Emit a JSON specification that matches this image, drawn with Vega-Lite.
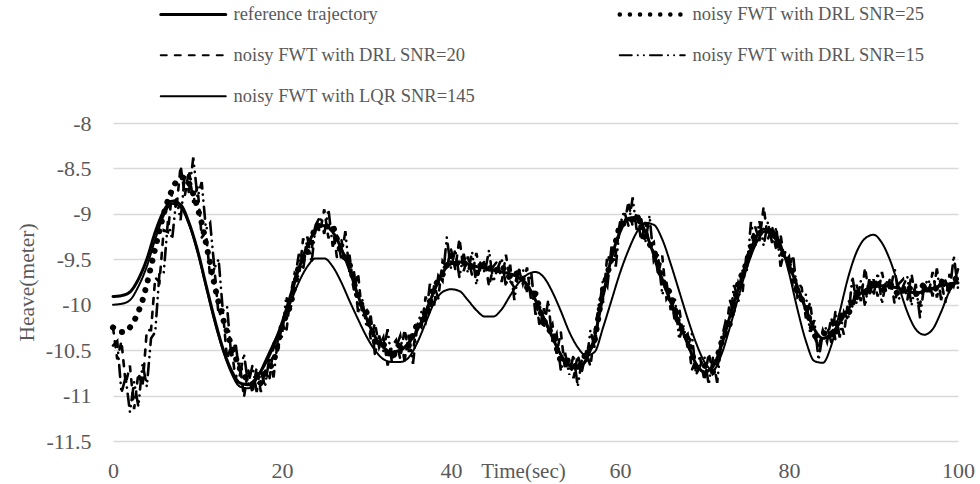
{
  "$schema": "https://vega.github.io/schema/vega-lite/v6.json",
  "width": 845,
  "height": 318,
  "autosize": {"type": "none"},
  "padding": {"left": 113, "top": 123, "right": 22, "bottom": 43},
  "background": "white",
  "config": {"view": {"stroke": null}},
  "datasets": {
    "ref": [{"t":0,"v":-9.91},{"t":1,"v":-9.9},{"t":2,"v":-9.86},{"t":3,"v":-9.72},{"t":4,"v":-9.5},{"t":5,"v":-9.2},{"t":6,"v":-8.97},{"t":7,"v":-8.86},{"t":8,"v":-8.9},{"t":9,"v":-9.1},{"t":10,"v":-9.4},{"t":11,"v":-9.78},{"t":12,"v":-10.15},{"t":13,"v":-10.48},{"t":14,"v":-10.72},{"t":15,"v":-10.86},{"t":16,"v":-10.88},{"t":17,"v":-10.8},{"t":18,"v":-10.65},{"t":19,"v":-10.45},{"t":20,"v":-10.2},{"t":21,"v":-9.9},{"t":22,"v":-9.6},{"t":23,"v":-9.35},{"t":24,"v":-9.18},{"t":25,"v":-9.13},{"t":26,"v":-9.2},{"t":27,"v":-9.38},{"t":28,"v":-9.62},{"t":29,"v":-9.9},{"t":30,"v":-10.15},{"t":31,"v":-10.35},{"t":32,"v":-10.47},{"t":33,"v":-10.52},{"t":34,"v":-10.5},{"t":35,"v":-10.42},{"t":36,"v":-10.28},{"t":37,"v":-10.08},{"t":38,"v":-9.85},{"t":39,"v":-9.65},{"t":40,"v":-9.55},{"t":41,"v":-9.53},{"t":42,"v":-9.55},{"t":43,"v":-9.58},{"t":44,"v":-9.6},{"t":45,"v":-9.62},{"t":46,"v":-9.64},{"t":47,"v":-9.66},{"t":48,"v":-9.7},{"t":49,"v":-9.78},{"t":50,"v":-9.95},{"t":51,"v":-10.15},{"t":52,"v":-10.36},{"t":53,"v":-10.55},{"t":54,"v":-10.67},{"t":55,"v":-10.7},{"t":56,"v":-10.6},{"t":57,"v":-10.35},{"t":58,"v":-9.9},{"t":59,"v":-9.48},{"t":60,"v":-9.2},{"t":61,"v":-9.05},{"t":62,"v":-9.04},{"t":63,"v":-9.2},{"t":64,"v":-9.45},{"t":65,"v":-9.72},{"t":66,"v":-9.97},{"t":67,"v":-10.2},{"t":68,"v":-10.43},{"t":69,"v":-10.65},{"t":70,"v":-10.74},{"t":71,"v":-10.68},{"t":72,"v":-10.45},{"t":73,"v":-10.13},{"t":74,"v":-9.82},{"t":75,"v":-9.52},{"t":76,"v":-9.28},{"t":77,"v":-9.17},{"t":78,"v":-9.22},{"t":79,"v":-9.38},{"t":80,"v":-9.57},{"t":81,"v":-9.8},{"t":82,"v":-10.05},{"t":83,"v":-10.27},{"t":84,"v":-10.37},{"t":85,"v":-10.32},{"t":86,"v":-10.2},{"t":87,"v":-10.05},{"t":88,"v":-9.92},{"t":89,"v":-9.84},{"t":90,"v":-9.8},{"t":91,"v":-9.79},{"t":92,"v":-9.8},{"t":93,"v":-9.82},{"t":94,"v":-9.85},{"t":95,"v":-9.87},{"t":96,"v":-9.85},{"t":97,"v":-9.82},{"t":98,"v":-9.79},{"t":99,"v":-9.77},{"t":100,"v":-9.76}],
    "lqr": [{"t":0,"v":-10.0},{"t":1,"v":-9.99},{"t":2,"v":-9.95},{"t":3,"v":-9.8},{"t":4,"v":-9.58},{"t":5,"v":-9.28},{"t":6,"v":-9.02},{"t":7,"v":-8.89},{"t":8,"v":-8.93},{"t":9,"v":-9.12},{"t":10,"v":-9.42},{"t":11,"v":-9.8},{"t":12,"v":-10.18},{"t":13,"v":-10.5},{"t":14,"v":-10.75},{"t":15,"v":-10.9},{"t":16,"v":-10.92},{"t":17,"v":-10.82},{"t":18,"v":-10.62},{"t":19,"v":-10.42},{"t":20,"v":-10.22},{"t":21,"v":-9.98},{"t":22,"v":-9.75},{"t":23,"v":-9.58},{"t":24,"v":-9.49},{"t":25,"v":-9.49},{"t":26,"v":-9.58},{"t":27,"v":-9.75},{"t":28,"v":-9.96},{"t":29,"v":-10.16},{"t":30,"v":-10.35},{"t":31,"v":-10.5},{"t":32,"v":-10.6},{"t":33,"v":-10.63},{"t":34,"v":-10.63},{"t":35,"v":-10.58},{"t":36,"v":-10.42},{"t":37,"v":-10.2},{"t":38,"v":-9.98},{"t":39,"v":-9.86},{"t":40,"v":-9.83},{"t":41,"v":-9.85},{"t":42,"v":-9.95},{"t":43,"v":-10.06},{"t":44,"v":-10.13},{"t":45,"v":-10.13},{"t":46,"v":-10.05},{"t":47,"v":-9.9},{"t":48,"v":-9.76},{"t":49,"v":-9.67},{"t":50,"v":-9.64},{"t":51,"v":-9.7},{"t":52,"v":-9.86},{"t":53,"v":-10.07},{"t":54,"v":-10.3},{"t":55,"v":-10.47},{"t":56,"v":-10.56},{"t":57,"v":-10.52},{"t":58,"v":-10.25},{"t":59,"v":-9.95},{"t":60,"v":-9.65},{"t":61,"v":-9.4},{"t":62,"v":-9.2},{"t":63,"v":-9.1},{"t":64,"v":-9.12},{"t":65,"v":-9.28},{"t":66,"v":-9.55},{"t":67,"v":-9.85},{"t":68,"v":-10.15},{"t":69,"v":-10.42},{"t":70,"v":-10.63},{"t":71,"v":-10.72},{"t":72,"v":-10.55},{"t":73,"v":-10.25},{"t":74,"v":-9.92},{"t":75,"v":-9.6},{"t":76,"v":-9.35},{"t":77,"v":-9.2},{"t":78,"v":-9.18},{"t":79,"v":-9.33},{"t":80,"v":-9.65},{"t":81,"v":-10.05},{"t":82,"v":-10.4},{"t":83,"v":-10.62},{"t":84,"v":-10.64},{"t":85,"v":-10.45},{"t":86,"v":-10.08},{"t":87,"v":-9.7},{"t":88,"v":-9.42},{"t":89,"v":-9.27},{"t":90,"v":-9.23},{"t":91,"v":-9.32},{"t":92,"v":-9.52},{"t":93,"v":-9.8},{"t":94,"v":-10.08},{"t":95,"v":-10.27},{"t":96,"v":-10.33},{"t":97,"v":-10.27},{"t":98,"v":-10.08},{"t":99,"v":-9.85},{"t":100,"v":-9.72}],
    "s25": [{"t":0,"v":-10.25},{"t":0.5,"v":-10.28},{"t":1,"v":-10.3},{"t":1.5,"v":-10.3},{"t":2,"v":-10.25},{"t":2.5,"v":-10.18},{"t":3,"v":-10.08},{"t":3.5,"v":-9.95},{"t":4,"v":-9.78},{"t":4.5,"v":-9.58},{"t":5,"v":-9.38},{"t":5.5,"v":-9.18},{"t":6,"v":-9.0},{"t":6.5,"v":-8.85},{"t":7,"v":-8.73},{"t":7.5,"v":-8.64},{"t":8,"v":-8.6},{"t":8.5,"v":-8.6},{"t":9,"v":-8.66},{"t":9.5,"v":-8.78},{"t":10,"v":-8.93},{"t":10.5,"v":-9.1},{"t":11,"v":-9.32},{"t":11.5,"v":-9.55},{"t":12,"v":-9.78},{"t":12.5,"v":-9.98},{"t":13,"v":-10.15},{"t":13.5,"v":-10.3},{"t":14,"v":-10.45},{"t":14.5,"v":-10.58},{"t":15,"v":-10.7},{"t":15.5,"v":-10.78},{"t":16,"v":-10.84},{"t":16.5,"v":-10.88},{"t":17,"v":-10.9},{"t":17.5,"v":-10.86},{"t":18,"v":-10.75},{"t":19,"v":-10.64},{"t":20,"v":-10.23},{"t":21,"v":-10.01},{"t":22,"v":-9.57},{"t":23,"v":-9.43},{"t":24,"v":-9.12},{"t":25,"v":-9.15},{"t":26,"v":-9.12},{"t":27,"v":-9.43},{"t":28,"v":-9.55},{"t":29,"v":-9.94},{"t":30,"v":-10.08},{"t":31,"v":-10.41},{"t":32,"v":-10.43},{"t":33,"v":-10.59},{"t":34,"v":-10.44},{"t":35,"v":-10.45},{"t":36,"v":-10.21},{"t":37,"v":-10.14},{"t":38,"v":-9.8},{"t":39,"v":-9.67},{"t":40,"v":-9.46},{"t":41,"v":-9.58},{"t":42,"v":-9.52},{"t":43,"v":-9.66},{"t":44,"v":-9.54},{"t":45,"v":-9.65},{"t":46,"v":-9.57},{"t":47,"v":-9.71},{"t":48,"v":-9.64},{"t":49,"v":-9.81},{"t":50,"v":-9.88},{"t":51,"v":-10.21},{"t":52,"v":-10.32},{"t":53,"v":-10.63},{"t":54,"v":-10.61},{"t":55,"v":-10.72},{"t":56,"v":-10.53},{"t":57,"v":-10.4},{"t":58,"v":-9.82},{"t":59,"v":-9.5},{"t":60,"v":-9.11},{"t":61,"v":-9.1},{"t":62,"v":-9.01},{"t":63,"v":-9.28},{"t":64,"v":-9.39},{"t":65,"v":-9.73},{"t":66,"v":-9.88},{"t":67,"v":-10.23},{"t":68,"v":-10.37},{"t":69,"v":-10.69},{"t":70,"v":-10.67},{"t":71,"v":-10.74},{"t":72,"v":-10.42},{"t":73,"v":-10.21},{"t":74,"v":-9.76},{"t":75,"v":-9.54},{"t":76,"v":-9.2},{"t":77,"v":-9.22},{"t":78,"v":-9.17},{"t":79,"v":-9.42},{"t":80,"v":-9.5},{"t":81,"v":-9.86},{"t":82,"v":-10.02},{"t":83,"v":-10.35},{"t":84,"v":-10.31},{"t":85,"v":-10.34},{"t":86,"v":-10.12},{"t":87,"v":-10.11},{"t":88,"v":-9.87},{"t":89,"v":-9.88},{"t":90,"v":-9.73},{"t":91,"v":-9.85},{"t":92,"v":-9.77},{"t":93,"v":-9.9},{"t":94,"v":-9.79},{"t":95,"v":-9.89},{"t":96,"v":-9.77},{"t":97,"v":-9.87},{"t":98,"v":-9.74},{"t":99,"v":-9.81},{"t":100,"v":-9.68}],
    "s20": [{"t":0,"v":-10.25},{"t":0.5,"v":-10.6},{"t":1,"v":-10.4},{"t":1.5,"v":-10.87},{"t":2,"v":-10.67},{"t":2.5,"v":-11.15},{"t":3,"v":-10.75},{"t":3.5,"v":-10.9},{"t":4,"v":-10.28},{"t":4.5,"v":-10.28},{"t":5,"v":-9.7},{"t":5.5,"v":-9.75},{"t":6,"v":-9.18},{"t":6.5,"v":-9.2},{"t":7,"v":-8.75},{"t":7.5,"v":-8.95},{"t":8,"v":-8.47},{"t":8.5,"v":-8.8},{"t":9,"v":-8.52},{"t":9.5,"v":-8.88},{"t":10,"v":-8.7},{"t":10.5,"v":-9.26},{"t":11,"v":-9.2},{"t":11.5,"v":-9.7},{"t":12,"v":-9.6},{"t":12.5,"v":-10.12},{"t":13,"v":-10.07},{"t":13.5,"v":-10.6},{"t":14,"v":-10.45},{"t":14.5,"v":-10.82},{"t":15,"v":-10.64},{"t":15.5,"v":-11.02},{"t":16,"v":-10.71},{"t":16.5,"v":-10.98},{"t":17,"v":-10.69},{"t":17.5,"v":-10.96},{"t":18,"v":-10.72},{"t":18.5,"v":-10.84},{"t":19,"v":-10.45},{"t":19.5,"v":-10.52},{"t":20,"v":-10.2},{"t":20.5,"v":-10.31},{"t":21,"v":-9.9},{"t":21.5,"v":-9.65},{"t":22,"v":-9.7},{"t":22.5,"v":-9.27},{"t":23,"v":-9.43},{"t":23.5,"v":-9.4},{"t":24,"v":-9.09},{"t":24.5,"v":-9.2},{"t":25,"v":-8.95},{"t":25.5,"v":-9.27},{"t":26,"v":-9.14},{"t":26.5,"v":-9.48},{"t":27,"v":-9.27},{"t":27.5,"v":-9.52},{"t":28,"v":-9.46},{"t":28.5,"v":-9.84},{"t":29,"v":-9.65},{"t":29.5,"v":-10.13},{"t":30,"v":-10.07},{"t":30.5,"v":-10.38},{"t":31,"v":-10.2},{"t":31.5,"v":-10.47},{"t":32,"v":-10.36},{"t":32.5,"v":-10.67},{"t":33,"v":-10.46},{"t":33.5,"v":-10.39},{"t":34,"v":-10.6},{"t":34.5,"v":-10.27},{"t":35,"v":-10.51},{"t":35.5,"v":-10.51},{"t":36,"v":-10.2},{"t":36.5,"v":-10.25},{"t":37,"v":-9.91},{"t":37.5,"v":-10.09},{"t":38,"v":-9.79},{"t":38.5,"v":-9.93},{"t":39,"v":-9.52},{"t":39.5,"v":-9.59},{"t":40,"v":-9.39},{"t":40.5,"v":-9.61},{"t":41,"v":-9.27},{"t":41.5,"v":-9.63},{"t":42,"v":-9.47},{"t":42.5,"v":-9.68},{"t":43,"v":-9.43},{"t":43.5,"v":-9.65},{"t":44,"v":-9.5},{"t":44.5,"v":-9.8},{"t":45,"v":-9.58},{"t":45.5,"v":-9.52},{"t":46,"v":-9.75},{"t":46.5,"v":-9.45},{"t":47,"v":-9.74},{"t":47.5,"v":-9.81},{"t":48,"v":-9.6},{"t":48.5,"v":-9.77},{"t":49,"v":-9.59},{"t":49.5,"v":-9.97},{"t":50,"v":-9.89},{"t":50.5,"v":-10.25},{"t":51,"v":-10.04},{"t":51.5,"v":-10.28},{"t":52,"v":-10.21},{"t":52.5,"v":-10.54},{"t":53,"v":-10.3},{"t":53.5,"v":-10.72},{"t":54,"v":-10.59},{"t":54.5,"v":-10.81},{"t":55,"v":-10.55},{"t":55.5,"v":-10.73},{"t":56,"v":-10.51},{"t":56.5,"v":-10.68},{"t":57,"v":-10.3},{"t":57.5,"v":-10.0},{"t":58,"v":-9.97},{"t":58.5,"v":-9.45},{"t":59,"v":-9.54},{"t":59.5,"v":-9.44},{"t":60,"v":-9.09},{"t":60.5,"v":-9.14},{"t":61,"v":-8.86},{"t":61.5,"v":-9.14},{"t":62,"v":-8.98},{"t":62.5,"v":-9.3},{"t":63,"v":-9.09},{"t":63.5,"v":-9.35},{"t":64,"v":-9.31},{"t":64.5,"v":-9.67},{"t":65,"v":-9.46},{"t":65.5,"v":-9.94},{"t":66,"v":-9.88},{"t":66.5,"v":-10.19},{"t":67,"v":-10.03},{"t":67.5,"v":-10.36},{"t":68,"v":-10.32},{"t":68.5,"v":-10.72},{"t":69,"v":-10.6},{"t":69.5,"v":-10.59},{"t":70,"v":-10.84},{"t":70.5,"v":-10.53},{"t":71,"v":-10.76},{"t":71.5,"v":-10.72},{"t":72,"v":-10.36},{"t":72.5,"v":-10.35},{"t":73,"v":-9.95},{"t":73.5,"v":-10.09},{"t":74,"v":-9.76},{"t":74.5,"v":-9.87},{"t":75,"v":-9.41},{"t":75.5,"v":-9.42},{"t":76,"v":-9.14},{"t":76.5,"v":-9.3},{"t":77,"v":-8.92},{"t":77.5,"v":-9.28},{"t":78,"v":-9.14},{"t":78.5,"v":-9.41},{"t":79,"v":-9.23},{"t":79.5,"v":-9.53},{"t":80,"v":-9.47},{"t":80.5,"v":-9.86},{"t":81,"v":-9.75},{"t":81.5,"v":-9.81},{"t":82,"v":-10.15},{"t":82.5,"v":-9.97},{"t":83,"v":-10.35},{"t":83.5,"v":-10.47},{"t":84,"v":-10.28},{"t":84.5,"v":-10.41},{"t":85,"v":-10.14},{"t":85.5,"v":-10.39},{"t":86,"v":-10.14},{"t":86.5,"v":-10.33},{"t":87,"v":-9.95},{"t":87.5,"v":-10.02},{"t":88,"v":-9.78},{"t":88.5,"v":-9.96},{"t":89,"v":-9.59},{"t":89.5,"v":-9.91},{"t":90,"v":-9.72},{"t":90.5,"v":-9.91},{"t":91,"v":-9.64},{"t":91.5,"v":-9.86},{"t":92,"v":-9.7},{"t":92.5,"v":-9.99},{"t":93,"v":-9.77},{"t":93.5,"v":-9.72},{"t":94,"v":-9.95},{"t":94.5,"v":-9.66},{"t":95,"v":-9.95},{"t":95.5,"v":-10.0},{"t":96,"v":-9.76},{"t":96.5,"v":-9.89},{"t":97,"v":-9.64},{"t":97.5,"v":-9.92},{"t":98,"v":-9.73},{"t":98.5,"v":-9.98},{"t":99,"v":-9.66},{"t":99.5,"v":-9.79},{"t":100,"v":-9.61}],
    "s15": [{"t":0,"v":-10.45},{"t":0.5,"v":-10.4},{"t":1,"v":-10.97},{"t":1.5,"v":-10.8},{"t":2,"v":-11.18},{"t":2.5,"v":-10.85},{"t":3,"v":-11.12},{"t":3.5,"v":-10.65},{"t":4,"v":-10.9},{"t":4.5,"v":-10.37},{"t":5,"v":-10.3},{"t":5.5,"v":-9.65},{"t":6,"v":-9.65},{"t":6.5,"v":-9.08},{"t":7,"v":-9.28},{"t":7.5,"v":-8.83},{"t":8,"v":-9.07},{"t":8.5,"v":-8.57},{"t":9,"v":-8.77},{"t":9.5,"v":-8.38},{"t":10,"v":-8.82},{"t":10.5,"v":-8.65},{"t":11,"v":-9.17},{"t":11.5,"v":-9.1},{"t":12,"v":-9.6},{"t":12.5,"v":-9.5},{"t":13,"v":-10.07},{"t":13.5,"v":-10.02},{"t":14,"v":-10.57},{"t":14.5,"v":-10.42},{"t":15,"v":-10.78},{"t":15.5,"v":-10.54},{"t":16,"v":-10.88},{"t":16.5,"v":-10.67},{"t":17,"v":-10.96},{"t":17.5,"v":-10.73},{"t":18,"v":-10.9},{"t":18.5,"v":-10.58},{"t":19,"v":-10.8},{"t":19.5,"v":-10.39},{"t":20,"v":-10.35},{"t":20.5,"v":-9.91},{"t":21,"v":-10.07},{"t":21.5,"v":-9.73},{"t":22,"v":-9.44},{"t":22.5,"v":-9.62},{"t":23,"v":-9.25},{"t":23.5,"v":-9.54},{"t":24,"v":-9.12},{"t":24.5,"v":-9.03},{"t":25,"v":-9.22},{"t":25.5,"v":-8.95},{"t":26,"v":-9.36},{"t":26.5,"v":-9.23},{"t":27,"v":-9.49},{"t":27.5,"v":-9.19},{"t":28,"v":-9.67},{"t":28.5,"v":-9.62},{"t":29,"v":-10.08},{"t":29.5,"v":-9.94},{"t":30,"v":-10.25},{"t":30.5,"v":-10.12},{"t":31,"v":-10.55},{"t":31.5,"v":-10.34},{"t":32,"v":-10.51},{"t":32.5,"v":-10.27},{"t":33,"v":-10.63},{"t":33.5,"v":-10.47},{"t":34,"v":-10.34},{"t":34.5,"v":-10.62},{"t":35,"v":-10.33},{"t":35.5,"v":-10.65},{"t":36,"v":-10.23},{"t":36.5,"v":-10.08},{"t":37,"v":-10.18},{"t":37.5,"v":-9.77},{"t":38,"v":-10.01},{"t":38.5,"v":-9.68},{"t":39,"v":-9.74},{"t":39.5,"v":-9.26},{"t":40,"v":-9.6},{"t":40.5,"v":-9.39},{"t":41,"v":-9.7},{"t":41.5,"v":-9.44},{"t":42,"v":-9.65},{"t":42.5,"v":-9.42},{"t":43,"v":-9.78},{"t":43.5,"v":-9.52},{"t":44,"v":-9.65},{"t":44.5,"v":-9.4},{"t":45,"v":-9.75},{"t":45.5,"v":-9.6},{"t":46,"v":-9.49},{"t":46.5,"v":-9.8},{"t":47,"v":-9.56},{"t":47.5,"v":-9.95},{"t":48,"v":-9.63},{"t":48.5,"v":-9.6},{"t":49,"v":-9.86},{"t":49.5,"v":-9.65},{"t":50,"v":-10.11},{"t":50.5,"v":-10.0},{"t":51,"v":-10.26},{"t":51.5,"v":-9.95},{"t":52,"v":-10.42},{"t":52.5,"v":-10.32},{"t":53,"v":-10.73},{"t":53.5,"v":-10.53},{"t":54,"v":-10.77},{"t":54.5,"v":-10.55},{"t":55,"v":-10.9},{"t":55.5,"v":-10.6},{"t":56,"v":-10.66},{"t":56.5,"v":-10.28},{"t":57,"v":-10.47},{"t":57.5,"v":-10.08},{"t":58,"v":-9.71},{"t":58.5,"v":-9.8},{"t":59,"v":-9.36},{"t":59.5,"v":-9.58},{"t":60,"v":-9.12},{"t":60.5,"v":-8.97},{"t":61,"v":-9.13},{"t":61.5,"v":-8.82},{"t":62,"v":-9.2},{"t":62.5,"v":-9.05},{"t":63,"v":-9.31},{"t":63.5,"v":-9.02},{"t":64,"v":-9.52},{"t":64.5,"v":-9.45},{"t":65,"v":-9.89},{"t":65.5,"v":-9.75},{"t":66,"v":-10.06},{"t":66.5,"v":-9.93},{"t":67,"v":-10.38},{"t":67.5,"v":-10.23},{"t":68,"v":-10.47},{"t":68.5,"v":-10.32},{"t":69,"v":-10.77},{"t":69.5,"v":-10.67},{"t":70,"v":-10.58},{"t":70.5,"v":-10.88},{"t":71,"v":-10.58},{"t":71.5,"v":-10.86},{"t":72,"v":-10.39},{"t":72.5,"v":-10.18},{"t":73,"v":-10.22},{"t":73.5,"v":-9.77},{"t":74,"v":-9.98},{"t":74.5,"v":-9.62},{"t":75,"v":-9.63},{"t":75.5,"v":-9.09},{"t":76,"v":-9.35},{"t":76.5,"v":-9.08},{"t":77,"v":-9.35},{"t":77.5,"v":-9.09},{"t":78,"v":-9.32},{"t":78.5,"v":-9.15},{"t":79,"v":-9.58},{"t":79.5,"v":-9.4},{"t":80,"v":-9.62},{"t":80.5,"v":-9.46},{"t":81,"v":-9.92},{"t":81.5,"v":-9.89},{"t":82,"v":-9.89},{"t":82.5,"v":-10.32},{"t":83,"v":-10.17},{"t":83.5,"v":-10.61},{"t":84,"v":-10.31},{"t":84.5,"v":-10.24},{"t":85,"v":-10.41},{"t":85.5,"v":-10.07},{"t":86,"v":-10.36},{"t":86.5,"v":-10.08},{"t":87,"v":-10.17},{"t":87.5,"v":-9.69},{"t":88,"v":-9.99},{"t":88.5,"v":-9.74},{"t":89,"v":-10.02},{"t":89.5,"v":-9.72},{"t":90,"v":-9.9},{"t":90.5,"v":-9.65},{"t":91,"v":-9.99},{"t":91.5,"v":-9.73},{"t":92,"v":-9.85},{"t":92.5,"v":-9.59},{"t":93,"v":-9.94},{"t":93.5,"v":-9.8},{"t":94,"v":-9.69},{"t":94.5,"v":-10.01},{"t":95,"v":-9.77},{"t":95.5,"v":-10.14},{"t":96,"v":-9.79},{"t":96.5,"v":-9.72},{"t":97,"v":-9.91},{"t":97.5,"v":-9.6},{"t":98,"v":-9.95},{"t":98.5,"v":-9.73},{"t":99,"v":-9.88},{"t":99.5,"v":-9.46},{"t":100,"v":-9.82}]
  },
  "encoding": {
    "x": {
      "field": "t", "type": "quantitative",
      "scale": {"domain": [0, 100], "nice": false, "zero": false},
      "axis": {
        "values": [0, 20, 40, 60, 80, 100], "grid": false, "domain": false, "ticks": false, "tickSize": 0,
        "labelFlush": false, "labelOverlap": false,
        "labelFont": "Liberation Serif", "labelFontSize": 22, "labelColor": "#595959",
        "labelBaseline": "alphabetic", "labelPadding": 36,
        "title": "Time(sec)", "titleFont": "Liberation Serif", "titleFontSize": 21, "titleFontWeight": "normal",
        "titleColor": "#595959", "titleX": 410, "titleY": 36, "titleBaseline": "alphabetic", "titleAlign": "center"
      }
    },
    "y": {
      "field": "v", "type": "quantitative",
      "scale": {"domain": [-11.5, -8], "nice": false, "zero": false},
      "axis": {
        "values": [-11.5, -11, -10.5, -10, -9.5, -9, -8.5, -8], "grid": true, "gridColor": "#d9d9d9", "gridWidth": 1.5,
        "domain": false, "ticks": false, "tickSize": 0, "labelPadding": 22, "labelExpr": "'' + datum.value",
        "labelFont": "Liberation Serif", "labelFontSize": 22, "labelColor": "#595959", "labelBaseline": "middle",
        "title": "Heave(meter)", "titleFont": "Liberation Serif", "titleFontSize": 21.5, "titleFontWeight": "normal",
        "titleColor": "#595959", "titleX": -80, "titleBaseline": "alphabetic"
      }
    }
  },
  "layer": [
    {
      "data": {"name": "ref"},
      "mark": {"type": "line", "color": "black", "strokeWidth": 3, "strokeCap": "round", "interpolate": "monotone"},
      "encoding": {
        "strokeDash": {
          "datum": "reference trajectory", "type": "nominal",
          "scale": {
            "domain": ["reference trajectory", "noisy FWT with DRL SNR=20", "noisy FWT with LQR SNR=145", "noisy FWT with DRL SNR=25", "noisy FWT with DRL SNR=15"],
            "range": [[1, 0], [6, 8], [1, 0], [0.1, 10], [12, 6, 0.1, 6, 0.1, 6]]
          },
          "legend": {
            "orient": "none", "legendX": 71, "legendY": -118, "columns": 2, "title": null,
            "symbolType": "stroke", "symbolSize": 4225, "symbolStrokeColor": "black", "symbolStrokeWidth": 2,
            "labelFont": "Liberation Serif", "labelFontSize": 18.5, "labelColor": "#595959", "labelOffset": 31,
            "labelLimit": 400, "columnPadding": 134, "rowPadding": 22,
            "encode": {"symbols": {"update": {
              "strokeWidth": {"signal": "datum.value === 'reference trajectory' ? 3 : datum.value === 'noisy FWT with DRL SNR=25' ? 4.5 : 2"},
              "strokeCap": {"value": "round"}
            }}}
          }
        }
      }
    },
    {
      "data": {"name": "s20"},
      "mark": {"type": "line", "color": "black", "strokeWidth": 2.6, "strokeCap": "round"},
      "encoding": {"strokeDash": {"datum": "noisy FWT with DRL SNR=20", "type": "nominal"}}
    },
    {
      "data": {"name": "s15"},
      "mark": {"type": "line", "color": "black", "strokeWidth": 2.6, "strokeCap": "round"},
      "encoding": {"strokeDash": {"datum": "noisy FWT with DRL SNR=15", "type": "nominal"}}
    },
    {
      "data": {"name": "s25"},
      "mark": {"type": "line", "color": "black", "strokeWidth": 6, "strokeCap": "round"},
      "encoding": {"strokeDash": {"datum": "noisy FWT with DRL SNR=25", "type": "nominal"}}
    },
    {
      "data": {"name": "lqr"},
      "mark": {"type": "line", "color": "black", "strokeWidth": 2, "strokeCap": "round", "interpolate": "monotone"},
      "encoding": {"strokeDash": {"datum": "noisy FWT with LQR SNR=145", "type": "nominal"}}
    }
  ]
}
